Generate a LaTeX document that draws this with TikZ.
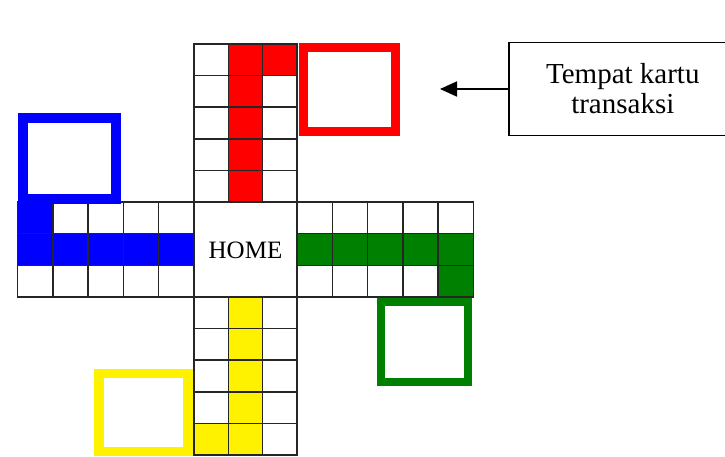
\documentclass[tikz,border=0pt]{standalone}
\usepackage{fontspec}
\setmainfont{Liberation Serif}
\usetikzlibrary{arrows.meta}

\tikzset{
  cell/.style={draw=black!85, line width=1.5pt},
  homebox/.style={minimum width=103pt, minimum height=95pt, inner sep=0pt, font=\fontsize{25}{28}\selectfont},
  kartubox/.style={draw=black, line width=1.6pt, align=center, minimum width=228pt, minimum height=93pt, font=\fontsize{29}{30}\selectfont},
}

\begin{document}
\begin{tikzpicture}[x=1pt, y=-1pt]
    \useasboundingbox (0,0) rectangle (725,456);

    % Top arm (red)
    \foreach \r in {0,...,4} {
        \foreach \c in {0,1,2} {
            \pgfmathtruncatemacro{\hit}{(\c==1)||(\c==2 && \r==0)}
            \ifnum \hit=1
                \draw[cell, fill=red] (194+\c*34.33, 44+\r*31.6) rectangle ++(34.33, 31.6);
            \else
                \draw[cell] (194+\c*34.33, 44+\r*31.6) rectangle ++(34.33, 31.6);
            \fi
        }
    }

    % Bottom arm (yellow)
    \foreach \r in {0,...,4} {
        \foreach \c in {0,1,2} {
            \pgfmathtruncatemacro{\hit}{(\c==1)||(\c==0 && \r==4)}
            \ifnum \hit=1
                \draw[cell, fill=yellow] (194+\c*34.33, 297+\r*31.6) rectangle ++(34.33, 31.6);
            \else
                \draw[cell] (194+\c*34.33, 297+\r*31.6) rectangle ++(34.33, 31.6);
            \fi
        }
    }

    % Left arm (blue)
    \foreach \r in {0,1,2} {
        \foreach \c in {0,...,4} {
            \pgfmathtruncatemacro{\hit}{(\r==1)||(\c==0 && \r==0)}
            \ifnum \hit=1
                \draw[cell, fill=blue] (17.5+\c*35.3, 202+\r*31.67) rectangle ++(35.3, 31.67);
            \else
                \draw[cell] (17.5+\c*35.3, 202+\r*31.67) rectangle ++(35.3, 31.67);
            \fi
        }
    }

    % Right arm (green)
    \foreach \r in {0,1,2} {
        \foreach \c in {0,...,4} {
            \pgfmathtruncatemacro{\hit}{(\r==1)||(\c==4 && \r==2)}
            \ifnum \hit=1
                \draw[cell, fill=green!50!black] (297+\c*35.3, 202+\r*31.67) rectangle ++(35.3, 31.67);
            \else
                \draw[cell] (297+\c*35.3, 202+\r*31.67) rectangle ++(35.3, 31.67);
            \fi
        }
    }

    % Home
    \draw[cell] (194,202) rectangle (297,297);
    \node[homebox] (home) at (245.5, 250) {HOME};

    % Card places
    \draw[red, line width=9.5pt] (303.5,47.5) rectangle (395.5,131.5);
    \draw[blue, line width=10pt] (23,118) rectangle (116,198.5);
    \draw[green!50!black, line width=8pt] (381,301.5) rectangle (468,381.5);
    \draw[yellow, line width=9.5pt] (99,373.5) rectangle (188,451.5);

    % Label
    \coordinate (tip) at (440, 89);
    \node[kartubox, anchor=west] (kartu) at (508, 89) {Tempat kartu\\transaksi};
    \draw[-{Triangle[length=17pt, width=15pt]}, line width=1.8pt] (kartu.west) -- (tip);
\end{tikzpicture}
\end{document}
